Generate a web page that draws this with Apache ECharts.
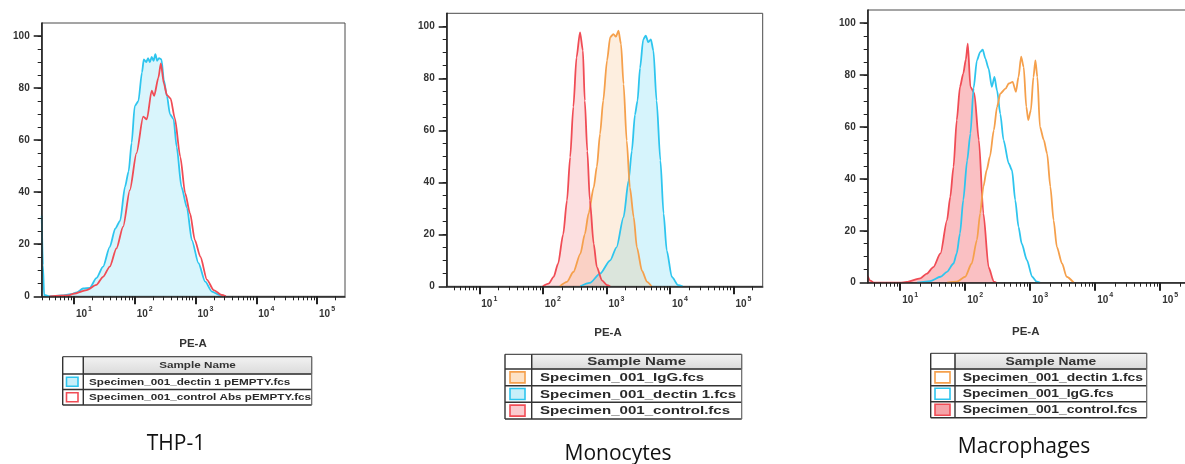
<!DOCTYPE html>
<html>
<head>
<meta charset="utf-8">
<title>Dectin-1 staining by flow cytometry</title>
<script src="https://cdn.jsdelivr.net/npm/echarts@6/dist/echarts.min.js"></script>
<style>
  html, body { margin: 0; padding: 0; background: #ffffff; }
  #chart { width: 1185px; height: 464px; }
</style>
</head>
<body>
<div id="chart"></div>
<script>
// Histogram x values are log10(PE-A); y values are % of max count.
const decades = [1, 2, 3, 4, 5];
const countTicks = [0, 20, 40, 60, 80, 100];
const countMinorTicks = [5, 10, 15, 20, 25, 30, 35, 40, 45, 50, 55, 60, 65, 70, 75, 80, 85, 90, 95, 100];

// THP-1
const thpDectinName = 'Specimen_001_dectin 1 pEMPTY.fcs';
const thpDectin = [[0.47,31],[0.49,12],[0.51,0.5],[0.6,0],[0.8,0.3],[0.95,0.8],[1.05,1.5],[1.15,3],[1.26,3.2],[1.37,7],[1.48,11.4],[1.59,19],[1.68,26],[1.76,29],[1.84,42],[1.90,48],[1.95,59],[2.0,73],[2.06,75],[2.12,86],[2.15,91],[2.19,90],[2.22,91.5],[2.25,90],[2.28,92],[2.31,90.5],[2.34,93],[2.37,90.5],[2.40,91.5],[2.44,91],[2.48,83],[2.53,77],[2.58,70],[2.64,68],[2.69,57.5],[2.77,42],[2.86,34],[2.94,21.6],[3.05,12.7],[3.16,5.6],[3.27,1.8],[3.41,0.4],[3.5,0]];
const thpControlName = 'Specimen_001_control Abs pEMPTY.fcs';
const thpControl = [[0.6,0],[0.9,0.3],[1.0,1],[1.21,2.4],[1.37,4.4],[1.48,7.5],[1.59,11.4],[1.70,18.4],[1.81,26.8],[1.92,40.8],[2.03,55],[2.14,69],[2.20,68],[2.28,79],[2.32,77],[2.39,84],[2.43,89.5],[2.48,81.8],[2.53,77.3],[2.59,76],[2.66,68.4],[2.75,53.6],[2.83,39.6],[2.91,31.9],[2.99,21.6],[3.08,15.2],[3.19,6.3],[3.30,2.4],[3.43,0.5],[3.5,0]];

// Monocytes
const monoIgGName = 'Specimen_001_IgG.fcs';
const monoIgG = [[2.27,0],[2.38,1.7],[2.48,5.5],[2.59,12.5],[2.66,20],[2.72,28],[2.80,38],[2.85,46],[2.90,58.6],[2.95,71.4],[3.01,86.8],[3.06,95.8],[3.11,97],[3.15,96],[3.19,98.3],[3.23,93.2],[3.27,77.8],[3.32,56],[3.37,38],[3.43,26.6],[3.48,15],[3.56,6],[3.64,1.7],[3.71,0]];
const monoDectinName = 'Specimen_001_dectin 1.fcs';
const monoDectin = [[2.59,0],[2.74,1.3],[2.90,4.9],[3.06,10],[3.16,15],[3.27,26.6],[3.35,40.7],[3.40,52],[3.45,66],[3.49,71.4],[3.53,84],[3.58,95],[3.62,96.4],[3.66,93.9],[3.70,95],[3.74,90.6],[3.79,71.4],[3.85,48.4],[3.90,28],[3.95,13.8],[4.03,3.6],[4.13,0.4],[4.2,0]];
const monoControlName = 'Specimen_001_control.fcs';
const monoControl = [[2.0,0],[2.09,1],[2.17,3.6],[2.24,8.7],[2.32,20],[2.38,33],[2.43,49.7],[2.48,69],[2.53,88],[2.585,97.7],[2.63,90.7],[2.66,71.4],[2.70,52],[2.74,33],[2.80,16.4],[2.85,7.4],[2.93,2.3],[3.01,0.4],[3.06,0]];

// Macrophages
const macroDectinName = 'Specimen_001_dectin 1.fcs';
const macroDectin = [[1.72,0],[1.87,0.4],[2.0,2.3],[2.10,7.4],[2.18,16.4],[2.23,26.7],[2.28,37],[2.33,43.3],[2.38,48.5],[2.44,58.7],[2.49,67.7],[2.54,72.8],[2.62,74.7],[2.67,76.7],[2.73,77.3],[2.78,73.5],[2.82,79.2],[2.86,87],[2.90,83],[2.94,67.7],[2.97,62.6],[3.01,66.4],[3.05,79.2],[3.08,85.6],[3.11,79.2],[3.15,60],[3.21,54.9],[3.26,49.7],[3.31,37],[3.36,24],[3.41,13.8],[3.49,7.4],[3.56,2.3],[3.67,0]];
const macroIgGName = 'Specimen_001_IgG.fcs';
const macroIgG = [[1.26,0],[1.46,0.6],[1.62,2.3],[1.72,4.2],[1.82,7.4],[1.87,11.3],[1.92,19],[1.97,31.8],[2.03,47],[2.08,57.4],[2.13,75],[2.18,85.6],[2.23,88.8],[2.27,89.7],[2.31,86.3],[2.36,82.4],[2.41,75.4],[2.45,79.2],[2.49,74],[2.54,65],[2.59,54.9],[2.67,45.9],[2.72,43.3],[2.77,31.8],[2.82,21.5],[2.87,15],[2.95,8.7],[3.03,2.3],[3.10,0.4],[3.15,0]];
const macroControlName = 'Specimen_001_control.fcs';
const macroControl = [[0.50,2.5],[0.54,0.8],[0.60,0],[1.0,0],[1.10,0.3],[1.31,1.7],[1.41,3.5],[1.51,6],[1.62,11.3],[1.72,24],[1.77,33],[1.82,44.6],[1.87,62.6],[1.92,75.4],[1.97,80.5],[2.01,86],[2.04,92],[2.08,75.4],[2.14,73],[2.21,54.9],[2.28,26.7],[2.36,6],[2.44,0.4],[2.48,0]];

const panelTitles = ['THP-1', 'Monocytes', 'Macrophages'];
const axisTitle = 'PE-A';
const tableHeader = 'Sample Name';

// ---- styling ----
const FONT = '"Liberation Sans", Arial, sans-serif';
const CAPTION_FONT = '"Open Sans", "Noto Sans", sans-serif';
const CYAN = '#2ec5ee', RED = '#f04c55', ORANGE = '#f5a04c';
const AXIS_COLOR = '#222';

const panels = [
  {
    grid: { left: 41.7, top: 23, width: 303.3, height: 273.3 },
    xMin: 0.47, xMax: 5.46,
    curves: [
      { data: thpDectin, color: CYAN, fill: 'rgba(46,197,238,0.26)' },
      { data: thpControl, color: RED, fill: null }
    ],
    axisTitleX: 193, axisTitleY: 344,
    table: {
      left: 62.7, right: 311.7, col: 83.3, rows: [356.7, 374, 389.5, 405],
      font: 9.5, scale: 1.23, textX: 89, sw: [66.5, 11.5, 9], clip: true,
      entries: [
        { name: thpDectinName, color: CYAN, fill: '#c8eff9' },
        { name: thpControlName, color: RED, fill: '#ffffff' }
      ]
    },
    caption: { x: 176, y: 443.6, text: panelTitles[0] }
  },
  {
    grid: { left: 446.7, top: 13.3, width: 316, height: 273 },
    xMin: 0.487, xMax: 5.46,
    curves: [
      { data: monoDectin, color: CYAN, fill: 'rgba(46,197,238,0.28)' },
      { data: monoIgG, color: ORANGE, fill: 'rgba(245,160,76,0.26)' },
      { data: monoControl, color: RED, fill: 'rgba(240,76,85,0.26)' }
    ],
    axisTitleX: 608, axisTitleY: 333,
    table: {
      left: 505, right: 741.7, col: 531.7, rows: [354.3, 369, 385.7, 402.3, 419],
      font: 11, scale: 1.37, textX: 540, sw: [510, 15, 11], clip: false,
      entries: [
        { name: monoIgGName, color: ORANGE, fill: '#fde2c6' },
        { name: monoDectinName, color: CYAN, fill: '#c8eff9' },
        { name: monoControlName, color: RED, fill: '#f9cbcf' }
      ]
    },
    caption: { x: 618, y: 454, text: panelTitles[1] }
  },
  {
    grid: { left: 867.7, top: 10, width: 322.4, height: 272.7 },
    xMin: 0.5, xMax: 5.46,
    curves: [
      { data: macroControl, color: RED, fill: 'rgba(240,76,85,0.5)' },
      { data: macroIgG, color: CYAN, fill: null },
      { data: macroDectin, color: ORANGE, fill: null }
    ],
    axisTitleX: 1025.7, axisTitleY: 331.7,
    table: {
      left: 930.7, right: 1146.7, col: 955, rows: [353.3, 369, 385.7, 401.7, 417.7],
      font: 11, scale: 1.26, textX: 962.7, sw: [935, 15, 11], clip: false,
      entries: [
        { name: macroDectinName, color: ORANGE, fill: '#ffffff' },
        { name: macroIgGName, color: CYAN, fill: '#ffffff' },
        { name: macroControlName, color: RED, fill: '#f5a3a8' }
      ]
    },
    caption: { x: 1024, y: 446.6, text: panelTitles[2] }
  }
];

function minorDecadeTicks(min, max) {
  const out = [];
  for (let d = 0; d <= 5; d++) {
    for (let m = 2; m <= 9; m++) {
      const v = d + Math.log10(m);
      if (v >= min && v <= max) out.push(v);
    }
  }
  return out;
}

const grids = [], xAxes = [], yAxes = [], series = [], graphics = [];

panels.forEach((p, i) => {
  grids.push(Object.assign({
    show: true, borderColor: '#4a4a4a', borderWidth: 1, backgroundColor: 'transparent',
    containLabel: false, outerBoundsMode: 'none'
  }, p.grid));

  // major x axis: decade ticks and 10^n labels
  xAxes.push({
    type: 'value', gridIndex: i, position: 'bottom', min: p.xMin, max: p.xMax, z: 5,
    axisLine: { show: true, onZero: false, lineStyle: { color: AXIS_COLOR, width: 1.6 } },
    axisTick: { show: true, customValues: decades, length: 8, lineStyle: { color: AXIS_COLOR, width: 2 } },
    axisLabel: {
      show: true, customValues: decades, margin: 9, align: 'left', padding: [0, 0, 0, 2],
      formatter: v => '{b|10}{s|' + v + '}',
      rich: {
        b: { fontSize: 10, fontWeight: 'bold', color: '#333', fontFamily: FONT, verticalAlign: 'bottom', lineHeight: 14 },
        s: { fontSize: 7, fontWeight: 'bold', color: '#333', fontFamily: FONT, verticalAlign: 'top', lineHeight: 8, padding: [0, 0, 0, 1] }
      }
    },
    splitLine: { show: false }
  });
  // minor x axis: 2..9 x 10^n ticks
  xAxes.push({
    type: 'value', gridIndex: i, position: 'bottom', min: p.xMin, max: p.xMax, z: 5,
    axisLine: { show: false },
    axisTick: { show: true, customValues: minorDecadeTicks(p.xMin, p.xMax), length: 4, lineStyle: { color: AXIS_COLOR, width: 1 } },
    axisLabel: { show: false },
    splitLine: { show: false }
  });

  yAxes.push({
    type: 'value', gridIndex: i, position: 'left', min: 0, max: 105, z: 5,
    axisLine: { show: true, onZero: false, lineStyle: { color: AXIS_COLOR, width: 1.6 } },
    axisTick: { show: true, customValues: countTicks, length: 8, lineStyle: { color: AXIS_COLOR, width: 1.6 } },
    axisLabel: { show: true, customValues: countTicks, margin: 12, fontSize: 10, fontWeight: 'bold', color: '#333', fontFamily: FONT },
    splitLine: { show: false }
  });
  yAxes.push({
    type: 'value', gridIndex: i, position: 'left', min: 0, max: 105, z: 5,
    axisLine: { show: false },
    axisTick: { show: true, customValues: countMinorTicks, length: 4, lineStyle: { color: AXIS_COLOR, width: 1 } },
    axisLabel: { show: false },
    splitLine: { show: false }
  });

  p.curves.forEach(c => {
    const s = {
      type: 'line', xAxisIndex: i * 2, yAxisIndex: i * 2, data: c.data,
      showSymbol: false, symbol: 'none', smooth: 0.25, smoothMonotone: 'x',
      lineStyle: { color: c.color, width: 1.8 }, itemStyle: { color: c.color },
      silent: true, animation: false, z: 2
    };
    if (c.fill) s.areaStyle = { color: c.fill, origin: 'start' };
    series.push(s);
  });

  // axis title under each histogram
  graphics.push({
    type: 'text', x: p.axisTitleX, y: p.axisTitleY,
    style: { text: axisTitle, font: 'bold 11.5px ' + FONT, fill: '#333', align: 'center', verticalAlign: 'middle' }
  });

  // sample table
  const t = p.table;
  const r = t.rows;
  const last = r[r.length - 1];
  graphics.push({
    type: 'rect', shape: { x: t.col, y: r[0], width: t.right - t.col, height: r[1] - r[0] },
    style: {
      fill: new echarts.graphic.LinearGradient(0, 0, 0, 1, [
        { offset: 0, color: '#f3f3f3' }, { offset: 1, color: '#dadada' }
      ]),
      stroke: '#a0a0a0', lineWidth: 1
    }
  });
  graphics.push({
    type: 'text', x: (t.col + t.right) / 2, y: (r[0] + r[1]) / 2 + 0.5, scaleX: t.scale,
    style: { text: tableHeader, font: 'bold ' + t.font + 'px ' + FONT, fill: '#333', align: 'center', verticalAlign: 'middle' }
  });
  t.entries.forEach((e, k) => {
    const y0 = r[k + 1], y1 = r[k + 2], cy = (y0 + y1) / 2;
    graphics.push({
      type: 'rect', shape: { x: t.sw[0], y: cy - t.sw[2] / 2, width: t.sw[1], height: t.sw[2] },
      style: { fill: e.fill, stroke: e.color, lineWidth: 1.6 }
    });
    const textStyle = {
      text: e.name, font: 'bold ' + t.font + 'px ' + FONT, fill: '#2a2a2a', align: 'left', verticalAlign: 'middle'
    };
    if (t.clip) {
      textStyle.width = (t.right - t.textX + 2) / t.scale;
      textStyle.overflow = 'truncate';
      textStyle.ellipsis = '';
    }
    graphics.push({ type: 'text', x: t.textX, y: cy + 0.5, scaleX: t.scale, style: textStyle });
  });
  // table rules
  r.forEach((y, k) => {
    graphics.push({
      type: 'line', shape: { x1: t.left, y1: y, x2: t.right, y2: y },
      style: { stroke: k === 0 ? '#555' : '#333', lineWidth: k === 0 ? 1.2 : 1.5 }
    });
  });
  [t.left, t.col, t.right].forEach((x, k) => {
    graphics.push({
      type: 'line', shape: { x1: x, y1: r[0], x2: x, y2: last },
      style: { stroke: k === 2 ? '#666' : '#333', lineWidth: k === 2 ? 1.2 : 1.4 }
    });
  });

  graphics.push({
    type: 'text', x: p.caption.x, y: p.caption.y,
    style: { text: p.caption.text, font: '21px ' + CAPTION_FONT, fill: '#111', align: 'center', verticalAlign: 'middle' }
  });
});

const chart = echarts.init(document.getElementById('chart'), null, { renderer: 'canvas' });
chart.setOption({
  animation: false,
  backgroundColor: '#ffffff',
  grid: grids,
  xAxis: xAxes,
  yAxis: yAxes,
  series: series,
  graphic: { elements: graphics }
});
</script>
</body>
</html>
